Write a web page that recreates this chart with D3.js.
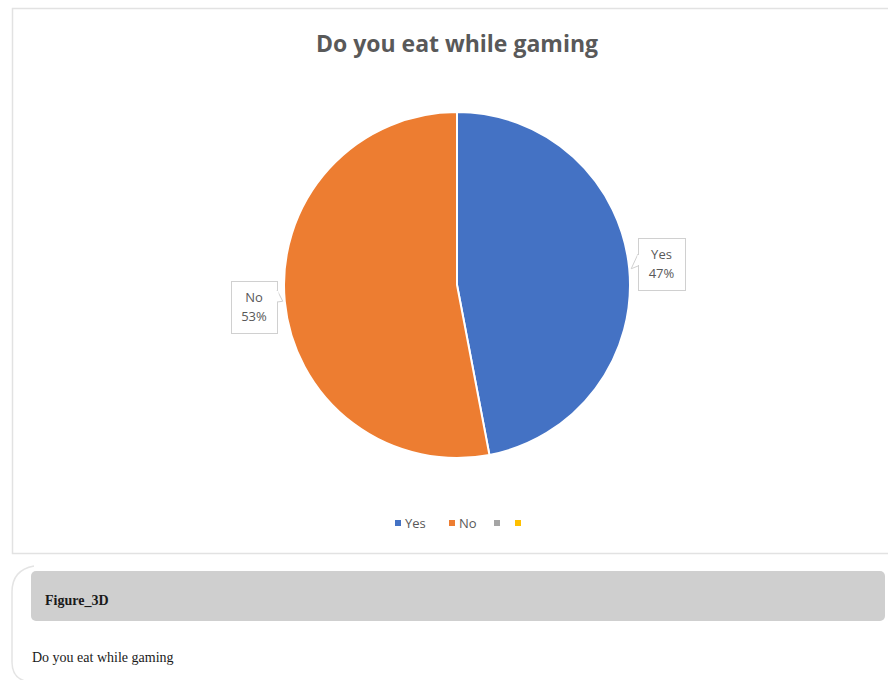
<!DOCTYPE html>
<html>
<head>
<meta charset="utf-8">
<script src="https://cdn.jsdelivr.net/npm/d3@7"></script>
<style>
  html, body { margin: 0; padding: 0; background: #fff; }
  svg { display: block; }
</style>
</head>
<body>
<svg id="chart" width="888" height="680"></svg>
<script>
// Survey answers: share of respondents (percent)
const categories = ["Yes", "No", "", ""];
const values = [47, 53, 0, 0];
const colors = ["#4472C4", "#ED7D31", "#A5A5A5", "#FFC000"];
const title = "Do you eat while gaming";
const figureName = "Figure_3D";
const figureCaption = "Do you eat while gaming";

const svg = d3.select("#chart");

// Chart area frame
svg.append("rect")
  .attr("x", 12.5).attr("y", 8.5)
  .attr("width", 890).attr("height", 545)
  .attr("fill", "#fff")
  .attr("stroke", "#e2e2e2").attr("stroke-width", 1.5);

// Title
svg.append("text")
  .attr("x", 457).attr("y", 52)
  .attr("text-anchor", "middle")
  .attr("font-family", "'Open Sans', sans-serif")
  .attr("font-weight", 700)
  .attr("font-size", 23)
  .attr("fill", "#595959")
  .text(title);

// Pie
const cx = 457, cy = 285, r = 173;
const data = categories.map((c, i) => ({ name: c, value: values[i], color: colors[i] }));
const pie = d3.pie().value(d => d.value).sort(null);
const arcs = pie(data);
const arc = d3.arc().innerRadius(0).outerRadius(r);

const g = svg.append("g").attr("transform", `translate(${cx},${cy})`);
g.selectAll("path")
  .data(arcs.filter(a => a.data.value > 0))
  .join("path")
  .attr("d", arc)
  .attr("fill", d => d.data.color)
  .attr("stroke", "#fff")
  .attr("stroke-width", 2);

// Data labels with callout boxes
const fmt = d => Math.round(d.data.value / d3.sum(values) * 100) + "%";
const labelLayout = {
  "Yes": { x: 638, y: 238, w: 47, h: 52, side: "left", py: 262 },
  "No":  { x: 231, y: 281, w: 46, h: 52, side: "right", py: 296 }
};
arcs.filter(a => a.data.value > 0).forEach(a => {
  const L = labelLayout[a.data.name];
  const lg = svg.append("g");
  // pointer toward the slice edge
  const mid = (a.startAngle + a.endAngle) / 2;
  const ex = cx + Math.sin(mid) * r;
  const ey = cy - Math.cos(mid) * r;
  const bx = L.side === "left" ? L.x : L.x + L.w;
  let pts;
  if (L.side === "left") {
    pts = [[bx, L.py - 8], [ex + 2, ey], [bx, L.py + 4]];
  } else {
    pts = [[bx, L.py - 6], [ex - 2, ey], [bx, L.py + 6]];
  }
  lg.append("rect")
    .attr("x", L.x + 0.5).attr("y", L.y + 0.5)
    .attr("width", L.w).attr("height", L.h)
    .attr("fill", "#fff")
    .attr("stroke", "#d0d0d0").attr("stroke-width", 1);
  lg.append("path")
    .attr("d", `M${pts[0][0]},${pts[0][1]}L${pts[1][0]},${pts[1][1]}L${pts[2][0]},${pts[2][1]}`)
    .attr("fill", "#fff")
    .attr("stroke", "#d0d0d0").attr("stroke-width", 1);
  lg.append("line")
    .attr("x1", bx + 0.5).attr("x2", bx + 0.5)
    .attr("y1", pts[0][1] + 1).attr("y2", pts[2][1] - 1)
    .attr("stroke", "#fff").attr("stroke-width", 2);
  const t = lg.append("text")
    .attr("text-anchor", "middle")
    .attr("font-family", "'Open Sans', sans-serif")
    .attr("font-size", 13)
    .attr("fill", "#595959");
  t.append("tspan").attr("x", L.x + L.w / 2).attr("y", L.y + 21).text(a.data.name);
  t.append("tspan").attr("x", L.x + L.w / 2).attr("y", L.y + 40).text(fmt(a));
});

// Legend
const legendX = [395, 449, 494, 515];
const legend = svg.append("g");
data.forEach((d, i) => {
  legend.append("rect")
    .attr("x", legendX[i]).attr("y", 520)
    .attr("width", 6).attr("height", 6)
    .attr("fill", d.color);
  if (d.name) {
    legend.append("text")
      .attr("x", legendX[i] + 10).attr("y", 528)
      .attr("font-family", "'Open Sans', sans-serif")
      .attr("font-size", 13)
      .attr("fill", "#595959")
      .text(d.name);
  }
});

// Caption panel below the chart
svg.append("path")
  .attr("d", "M34,566 Q12,570 12,592 L12,662 Q12,680 30,682")
  .attr("fill", "none")
  .attr("stroke", "#e4e4e4").attr("stroke-width", 1.5);
svg.append("rect")
  .attr("x", 31).attr("y", 571)
  .attr("width", 854).attr("height", 50)
  .attr("rx", 5)
  .attr("fill", "#cfcfcf");
svg.append("text")
  .attr("x", 45).attr("y", 605)
  .attr("font-family", "'Liberation Serif', serif")
  .attr("font-weight", "bold")
  .attr("font-size", 14)
  .attr("fill", "#1a1a1a")
  .text(figureName);
svg.append("text")
  .attr("x", 32).attr("y", 662)
  .attr("font-family", "'Liberation Serif', serif")
  .attr("font-size", 14)
  .attr("fill", "#1a1a1a")
  .text(figureCaption);
</script>
</body>
</html>
